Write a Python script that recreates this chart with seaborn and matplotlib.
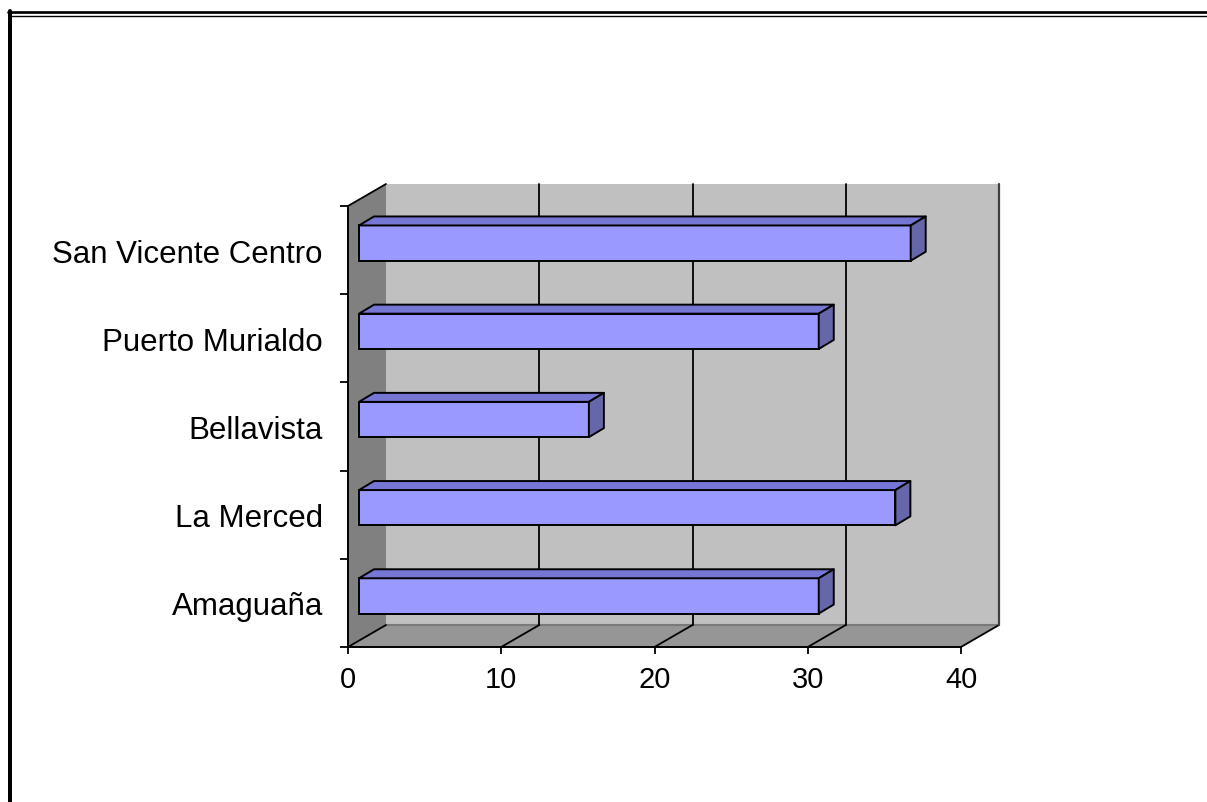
import numpy as np
import matplotlib
matplotlib.use('Agg')
import matplotlib.pyplot as plt
import matplotlib.transforms as mtransforms
from matplotlib.patches import Polygon
from matplotlib.lines import Line2D
import seaborn as sns

# data
categories = ['San Vicente Centro', 'Puerto Murialdo', 'Bellavista', 'La Merced', 'Amaguaña']
values = [36, 30, 15, 35, 30]
x_ticks = [0, 10, 20, 30, 40]

sns.set_style('white')
plt.rcParams['font.family'] = ['Liberation Sans', 'DejaVu Sans']
plt.rcParams['text.color'] = 'black'

W, H = 1207, 803
fig = plt.figure(figsize=(W / 100, H / 100), dpi=100)

# front plane of the 3d box, in pixels
left, right, top, bottom = 348, 961, 207, 648
ax = fig.add_axes([left / W, 1 - bottom / H, (right - left) / W, (bottom - top) / H])
ax.set_facecolor('none')

sns.barplot(x=values, y=categories, orient='h', color='#9999ff', saturation=1,
            edgecolor='black', linewidth=1.4, width=0.4, ax=ax)
n = len(categories)
ax.set_xlim(x_ticks[0], x_ticks[-1])
ax.set_ylim(n - 0.5, -0.5)

# pixel offset -> data offset (y axis is inverted)
ppx = (right - left) / (x_ticks[-1] - x_ticks[0])
ppy = (bottom - top) / n
def d(px, py):
    return px / ppx, -py / ppy

x0, x1 = x_ticks[0], x_ticks[-1]
y0, y1 = -0.5, n - 0.5
DX, DY = d(38, 22)

def poly(pts, color, z):
    ax.add_patch(Polygon(pts, closed=True, facecolor=color, edgecolor='none',
                         zorder=z, clip_on=False))

def line(xs, ys, color='black', lw=1.3, z=1):
    ax.add_line(Line2D(xs, ys, color=color, lw=lw, zorder=z, clip_on=False))

# walls and floor
poly([(x0 + DX, y0 + DY), (x1 + DX, y0 + DY), (x1 + DX, y1 + DY), (x0 + DX, y1 + DY)], '#c0c0c0', 0.2)
poly([(x0, y0), (x0 + DX, y0 + DY), (x0 + DX, y1 + DY), (x0, y1)], '#808080', 0.3)
poly([(x0, y1), (x1, y1), (x1 + DX, y1 + DY), (x0 + DX, y1 + DY)], '#969696', 0.3)
line([x0 + DX, x1 + DX], [y1 + DY, y1 + DY], color='#7a7a7a', lw=1.5, z=0.4)

# gridlines on back wall and floor
for t in x_ticks[1:-1]:
    line([t + DX, t + DX], [y0 + DY, y1 + DY], z=0.5)
for t in x_ticks:
    line([t, t + DX], [y1, y1 + DY], z=0.5)
line([x0, x0 + DX], [y0, y0 + DY], z=0.5)
line([x1 + DX, x1 + DX], [y0 + DY, y1 + DY], color='#404040', lw=1.6, z=0.5)

# 3d bars: shift the seaborn bars and add top / side faces
bar_tr = mtransforms.offset_copy(ax.transData, fig=fig, x=11, y=7, units='dots')
bdx, bdy = d(15, 9)
bars = list(ax.patches)[:n]
for p in bars:
    p.set_transform(bar_tr)
    p.set_zorder(3)
    p.set_clip_on(False)
    bx, by, bw, bh = p.get_x(), p.get_y(), p.get_width(), p.get_height()
    top_face = [(bx, by), (bx + bw, by), (bx + bw + bdx, by + bdy), (bx + bdx, by + bdy)]
    side_face = [(bx + bw, by), (bx + bw, by + bh), (bx + bw + bdx, by + bh + bdy), (bx + bw + bdx, by + bdy)]
    for pts, c in [(top_face, '#7676d4'), (side_face, '#6666aa')]:
        ax.add_patch(Polygon(pts, closed=True, facecolor=c, edgecolor='black', lw=1.4,
                             joinstyle='round', zorder=3, clip_on=False, transform=bar_tr))

# axes, ticks, labels
for s in ['top', 'right']:
    ax.spines[s].set_visible(False)
for s in ['left', 'bottom']:
    ax.spines[s].set_color('black')
    ax.spines[s].set_linewidth(1.4)
    ax.spines[s].set_zorder(4)

ax.set_xticks(x_ticks)
ax.tick_params(axis='x', bottom=True, length=5, width=1.3, direction='out',
               labelsize=21, pad=8, colors='black')
ax.set_yticks(np.arange(n + 1) - 0.5, labels=[''] * (n + 1))
ax.set_yticks(np.arange(n), labels=categories, minor=True)
ax.tick_params(axis='y', which='major', left=True, length=6, width=1.3, colors='black')
ax.tick_params(axis='y', which='minor', left=True, length=0, labelsize=22.5, pad=18,
               labelcolor='black')
ax.set_xlabel('')
ax.set_ylabel('')

# frame around the chart (left and top only)
fig.add_artist(Line2D([10 / W, 10 / W], [1 - 12 / H, 0], transform=fig.transFigure,
                      color='black', lw=4 * 0.72))
fig.add_artist(Line2D([8 / W, 1], [1 - 13.3 / H] * 2, transform=fig.transFigure,
                      color='black', lw=2.7 * 0.72))
fig.add_artist(Line2D([12 / W, 1], [1 - 16.5 / H] * 2, transform=fig.transFigure,
                      color='black', lw=1.4 * 0.72))

fig.savefig('out.png', dpi=100)
